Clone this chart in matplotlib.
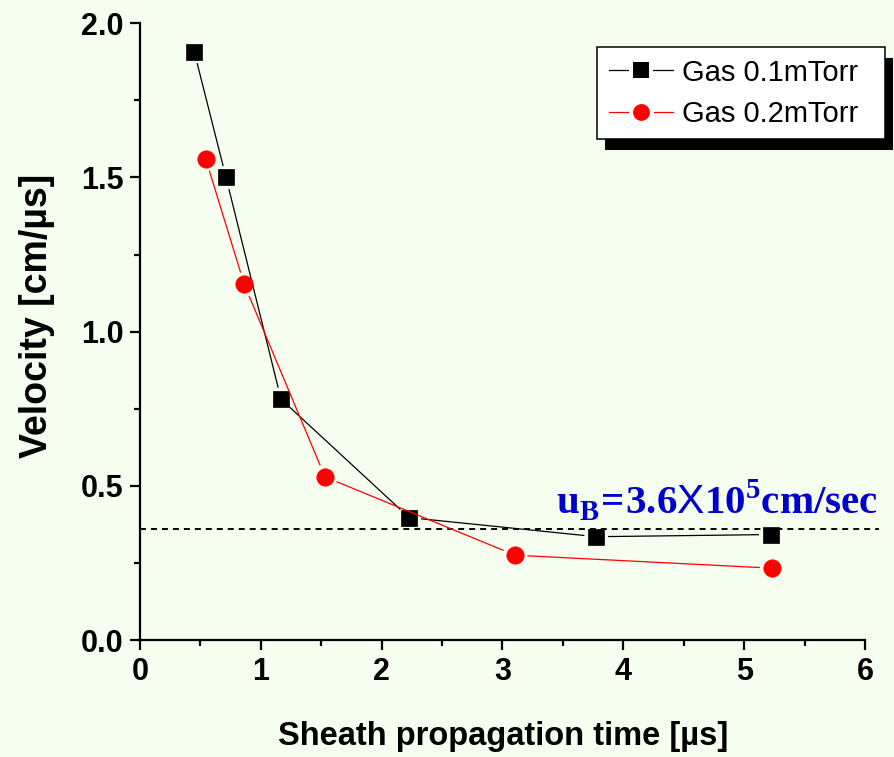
import matplotlib
matplotlib.use("Agg")
import matplotlib.pyplot as plt
import numpy as np
from matplotlib.lines import Line2D
from matplotlib.patches import Rectangle
from matplotlib.ticker import MultipleLocator, FormatStrFormatter

# Sheath velocity vs. propagation time for two gas pressures
time_01 = [0.449, 0.712, 1.167, 2.227, 3.775, 5.221]
vel_01 = [1.908, 1.500, 0.781, 0.397, 0.335, 0.342]
time_02 = [0.544, 0.863, 1.531, 3.104, 5.232]
vel_02 = [1.560, 1.153, 0.529, 0.275, 0.233]
series_labels = ["Gas 0.1mTorr", "Gas 0.2mTorr"]
bohm_velocity = 0.36          # 3.6e5 cm/s expressed in cm/us
x_ticks = [0, 1, 2, 3, 4, 5, 6]
y_ticks = [0.0, 0.5, 1.0, 1.5, 2.0]

BG = "#F6FEF0"
SANS = ["Liberation Sans", "DejaVu Sans"]

plt.rcParams["mathtext.fontset"] = "custom"
plt.rcParams["mathtext.bf"] = "Liberation Serif:bold"
plt.rcParams["mathtext.rm"] = "Liberation Serif"
plt.rcParams["mathtext.sf"] = "Liberation Sans"
plt.rcParams["lines.scale_dashes"] = False

fig = plt.figure(figsize=(8.95, 7.57), dpi=100, facecolor=BG)
ax = fig.add_axes([140 / 895, 117 / 757, 725 / 895, 616.7 / 757])
ax.set_facecolor(BG)
ax.set_xlim(0, 6)
ax.set_ylim(0, 2.0)

for s in ("top", "right"):
    ax.spines[s].set_visible(False)
for s in ("left", "bottom"):
    ax.spines[s].set_linewidth(1.6)

ax.set_xticks(x_ticks)
ax.set_yticks(y_ticks)
ax.xaxis.set_minor_locator(MultipleLocator(0.5))
ax.yaxis.set_minor_locator(MultipleLocator(0.25))
ax.yaxis.set_major_formatter(FormatStrFormatter("%.1f"))
ax.tick_params(which="major", direction="out", length=7, width=1.6, pad=5)
ax.tick_params(which="minor", direction="out", length=4, width=1.6)
for lab in ax.get_xticklabels() + ax.get_yticklabels():
    lab.set_family(SANS)
    lab.set_fontweight("bold")
    lab.set_fontsize(22)


def gapped_line(xs, ys, gap_px, **kw):
    """Connect points with segments that stop short of each marker."""
    pts = ax.transData.transform(np.column_stack([xs, ys]))
    segs = []
    for p, q in zip(pts[:-1], pts[1:]):
        d = q - p
        u = d / np.hypot(*d)
        segs += [p + u * gap_px, q - u * gap_px, [np.nan, np.nan]]
    data = ax.transData.inverted().transform(np.array(segs))
    ax.plot(data[:, 0], data[:, 1], **kw)


# reference velocity (dashed)
ax.plot([0, 6.12], [bohm_velocity, bohm_velocity], color="black", lw=1.4,
        linestyle=(0, (4.3, 3.6)), clip_on=False, zorder=2)

gapped_line(time_01, vel_01, 12.5, color="black", lw=0.9, zorder=3)
ax.plot(time_01, vel_01, linestyle="none", marker="s", ms=11.5,
        mfc="black", mec="black", mew=0.5, zorder=3)
gapped_line(time_02, vel_02, 13, color="red", lw=0.9, zorder=4)
ax.plot(time_02, vel_02, linestyle="none", marker="o", ms=12.5,
        mfc="red", mec="red", mew=0.5, zorder=4)

ax.text(0.574, 0.205,
        r"$\mathbf{u}_{\mathbf{B}}\!\mathbf{=}\!\mathbf{3.6}\mathsf{X}\mathbf{10}^{\mathbf{5}}\mathbf{cm/sec}$",
        color="#0000CC", fontsize=29.5, transform=ax.transAxes,
        ha="left", va="baseline")

fig.text(37 / 895, 1 - 316 / 757, "Velocity [cm/\u00b5s]", rotation=90,
         ha="center", va="center", fontsize=27, fontweight="bold",
         family=SANS)
fig.text(503 / 895, 1 - 737 / 757, "Sheath propagation time [\u00b5s]",
         ha="center", va="center", fontsize=23.5, fontweight="bold",
         family=SANS)

handles = [
    Line2D([], [], color="black", lw=0.9, marker="s", ms=13.7,
           mfc="black", mec="white", mew=2.9),
    Line2D([], [], color="red", lw=0.9, marker="o", ms=15,
           mfc="red", mec="white", mew=2.9),
]
leg = ax.legend(handles, series_labels, loc="upper left",
                bbox_to_anchor=(597 / 895, (757 - 139) / 757, 288 / 895, 92 / 757),
                bbox_transform=fig.transFigure, mode="expand",
                borderaxespad=0, frameon=True, fancybox=False, framealpha=1,
                edgecolor="black", facecolor="white",
                prop={"family": SANS, "size": 21},
                handlelength=2.2, handletextpad=0.3, borderpad=0.4,
                labelspacing=0.45)
leg.get_frame().set_linewidth(1.1)
leg.set_zorder(10)

# solid drop shadow behind the legend box
fig.canvas.draw()
bb = leg.get_frame().get_window_extent()
inv = fig.transFigure.inverted()
(x0, y0), (x1, y1) = inv.transform([[bb.x0 + 8, bb.y0 - 11], [bb.x1 + 8, bb.y1 - 11]])
ax.add_patch(Rectangle((x0, y0), x1 - x0, y1 - y0, transform=fig.transFigure,
                       facecolor="black", edgecolor="none", clip_on=False,
                       zorder=9))

fig.savefig("out.png", dpi=100, facecolor=BG)
